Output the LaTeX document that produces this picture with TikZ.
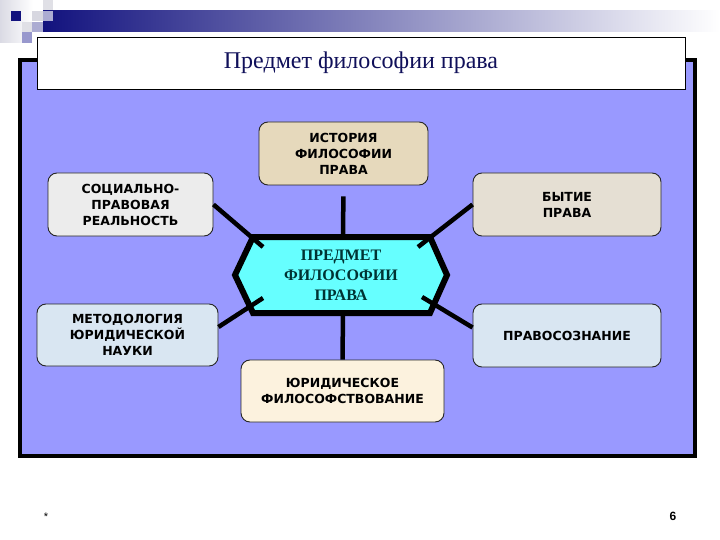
\documentclass[tikz,border=0pt]{standalone}
\usepackage{fontspec}
\setmainfont{Liberation Serif}
\newfontfamily\boxfont{DejaVu Sans}
\newfontfamily\pagefont{Liberation Sans}
\usetikzlibrary{positioning}
\definecolor{panelblue}{HTML}{9999FF}
\definecolor{navy}{HTML}{12127E}
\definecolor{titleink}{HTML}{10105A}
\definecolor{coreink}{HTML}{003333}
\definecolor{corefill}{HTML}{66FFFF}
\definecolor{woodfill}{HTML}{E6D9BC}
\definecolor{stonefill}{HTML}{E5DFD3}
\definecolor{greyfill}{HTML}{ECECEC}
\definecolor{icefill}{HTML}{D9E6F2}
\definecolor{creamfill}{HTML}{FCF2DE}
\tikzset{
  topic/.style={draw=black!85, line width=0.9pt, rounded corners=9pt, align=center,
    font=\boxfont\bfseries\fontsize{12.5}{16}\selectfont, inner sep=2pt},
  link/.style={line width=4.5pt, black},
  tile/.style={draw=none}
}
\begin{document}
\begin{tikzpicture}[x=1pt, y=-1pt]
\useasboundingbox (0,0) rectangle (720,540);
\fill[white] (0,0) rectangle (720,540);

% Corner tiles and header bar
\shade[left color=blue!15!gray!25, right color=white] (0,0) rectangle (33,43);
\shade[left color=navy, right color=white] (43,11) rectangle (720,32);
\fill[tile, navy] (11,11) rectangle (21,21);
\fill[tile, blue!12!gray!28] (32,11) rectangle (43,21);
\fill[tile, blue!10!gray!22] (43,0) rectangle (53,10);
\fill[tile, blue!30!gray!50] (43,11) rectangle (53,21);
\fill[tile, blue!10!gray!22] (22,22) rectangle (32,32);
\fill[tile, blue!30!gray!50] (32,22) rectangle (43,32);
\fill[tile, blue!35!gray!60] (22,32) rectangle (32,43);

% Panel
\filldraw[fill=panelblue, draw=black, line width=4.5pt] (20,60) rectangle (695,456);

% Title
\node[draw=black, line width=0.8pt, fill=white, minimum width=648pt, minimum height=52pt,
  font=\fontsize{24}{29}\selectfont, text=titleink] (title) at (361,63) {Предмет философии права};

% Central hexagon
\filldraw[fill=corefill, draw=black, line width=6pt, line join=miter]
  (235,275) -- (253,237) -- (430,237) -- (447,275) -- (430,313) -- (253,313) -- cycle;
\node[align=center, text=coreink, font=\bfseries\fontsize{16}{20}\selectfont] (core) at (341,275)
  {ПРЕДМЕТ\\ФИЛОСОФИИ\\ПРАВА};
\coordinate (coretop) at (343,237);
\coordinate (corebot) at (343,313);
\coordinate (coreul) at (263,247);
\coordinate (coreur) at (418,247);
\coordinate (corell) at (263,298);
\coordinate (corelr) at (422,297);

% Topics
\node[topic, fill=woodfill, minimum width=169pt, minimum height=63pt] (hist) at (343.5,153.5)
  {ИСТОРИЯ\\ФИЛОСОФИИ\\ПРАВА};
\node[topic, fill=greyfill, minimum width=165pt, minimum height=63pt] (social) at (130.5,204.5)
  {СОЦИАЛЬНО-\\ПРАВОВАЯ\\РЕАЛЬНОСТЬ};
\node[topic, fill=stonefill, minimum width=188pt, minimum height=63pt] (being) at (567,204.5)
  {БЫТИЕ\\ПРАВА};
\node[topic, fill=icefill, minimum width=181pt, minimum height=62pt] (method) at (127.5,335)
  {МЕТОДОЛОГИЯ\\ЮРИДИЧЕСКОЙ\\НАУКИ};
\node[topic, fill=icefill, minimum width=188pt, minimum height=63pt] (sense) at (567,335.5)
  {ПРАВОСОЗНАНИЕ};
\node[topic, fill=creamfill, minimum width=203pt, minimum height=62pt] (jurist) at (342.5,391)
  {ЮРИДИЧЕСКОЕ\\ФИЛОСОФСТВОВАНИЕ};

% Links
\draw[link, shorten <=11pt] (hist.south) -- (coretop);
\draw[link] (corebot) -- (jurist.north);
\draw[link] (social.east) -- (coreul);
\draw[link] (being.west) -- (coreur);
\draw[link] ([yshift=8pt]method.east) -- (corell);
\draw[link] ([yshift=8pt]sense.west) -- (corelr);

% Footer
\node[font=\pagefont\fontsize{11}{12}\selectfont] (star) at (46,517) {*};
\node[font=\pagefont\bfseries\fontsize{12}{14}\selectfont] (page) at (673,516) {6};
\end{tikzpicture}
\end{document}
